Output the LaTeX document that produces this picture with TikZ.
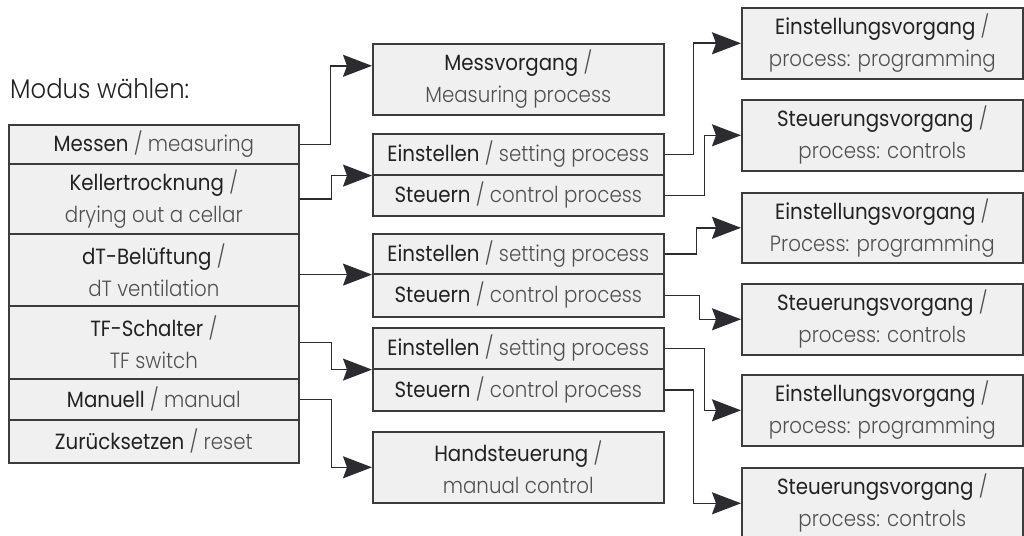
\documentclass[tikz,border=0pt]{standalone}
\usepackage{fontspec}
\setmainfont{Poppins}[FakeStretch=0.9]
\newfontfamily\medf{Poppins}[FakeStretch=0.9]
\newfontfamily\lightf{Poppins Light}[FakeStretch=0.9]
\usetikzlibrary{arrows.meta}
\definecolor{boxfill}{HTML}{F0F0F0}
\definecolor{bordercol}{HTML}{3C3C3C}
\definecolor{dtext}{HTML}{222222}
\definecolor{etext}{HTML}{505050}
\definecolor{arrowcol}{HTML}{2C2C30}
\newcommand{\de}[1]{{\medf\color{dtext}#1}}
\newcommand{\en}[1]{{\lightf\color{etext}#1}}
\newcommand{\sla}{{\lightf\color{etext}/}}
\tikzset{
  cell/.style={draw=bordercol, fill=boxfill, line width=1.6pt, align=center,
    inner sep=0pt, anchor=north west, font=\fontsize{22}{32}\selectfont},
  conn/.style={draw=arrowcol, line width=1.6pt,
    -{Stealth[length=29pt, width=22pt, inset=4pt]}},
}
\begin{document}
\begin{tikzpicture}[x=1pt, y=-1pt]
\useasboundingbox (0,0) rectangle (1024,535);
% title
\node[anchor=base west, inner sep=0pt, font=\fontsize{27}{30}\selectfont\lightf, text=dtext] (title) at (10,98) {Modus wählen:};
% left stack
\node[cell, minimum width=290pt, minimum height=39pt] (messen) at (8,124) {\de{Messen} \sla{} \en{measuring}};
\node[cell, minimum width=290pt, minimum height=70pt] (keller) at (8,163) {\de{Kellertrocknung} \sla\\\en{drying out a cellar}};
\node[cell, minimum width=290pt, minimum height=72pt] (dt) at (8,233) {\de{dT-Belüftung} \sla\\\en{dT ventilation}};
\node[cell, minimum width=290pt, minimum height=73pt] (tf) at (8,305) {\de{TF-Schalter} \sla\\\en{TF switch}};
\node[cell, minimum width=290pt, minimum height=41pt] (man) at (8,378) {\de{Manuell} \sla{} \en{manual}};
\node[cell, minimum width=290pt, minimum height=43pt] (reset) at (8,419) {\de{Zurücksetzen} \sla{} \en{reset}};
% middle column
\node[cell, minimum width=291pt, minimum height=71pt] (messv) at (372,43) {\de{Messvorgang} \sla\\\en{Measuring process}};
\node[cell, minimum width=291pt, minimum height=41pt] (e1) at (372,133) {\de{Einstellen} \sla{} \en{setting process}};
\node[cell, minimum width=291pt, minimum height=41pt] (s1) at (372,174) {\de{Steuern} \sla{} \en{control process}};
\node[cell, minimum width=291pt, minimum height=40pt] (e2) at (372,233) {\de{Einstellen} \sla{} \en{setting process}};
\node[cell, minimum width=291pt, minimum height=43pt] (s2) at (372,273) {\de{Steuern} \sla{} \en{control process}};
\node[cell, minimum width=291pt, minimum height=41pt] (e3) at (372,327) {\de{Einstellen} \sla{} \en{setting process}};
\node[cell, minimum width=291pt, minimum height=42pt] (s3) at (372,368) {\de{Steuern} \sla{} \en{control process}};
\node[cell, minimum width=291pt, minimum height=71pt] (hand) at (372,431) {\de{Handsteuerung} \sla\\\en{manual control}};
% right column
\node[cell, minimum width=281pt, minimum height=71pt] (r1) at (741,7) {\de{Einstellungsvorgang} \sla\\\en{process: programming}};
\node[cell, minimum width=281pt, minimum height=71pt] (r2) at (741,99) {\de{Steuerungsvorgang} \sla\\\en{process: controls}};
\node[cell, minimum width=281pt, minimum height=70pt] (r3) at (741,192) {\de{Einstellungsvorgang} \sla\\\en{Process: programming}};
\node[cell, minimum width=281pt, minimum height=71pt] (r4) at (741,283) {\de{Steuerungsvorgang} \sla\\\en{process: controls}};
\node[cell, minimum width=281pt, minimum height=71pt] (r5) at (741,374) {\de{Einstellungsvorgang} \sla\\\en{process: programming}};
\node[cell, minimum width=281pt, minimum height=71pt] (r6) at (741,467) {\de{Steuerungsvorgang} \sla\\\en{process: controls}};
% connectors left -> middle
\draw[conn] (messen.east) -- ++(31,0) |- ([yshift=13.5pt]messv.west);
\draw[conn] (keller.east) -- ++(32,0) |- (e1.south west);
\draw[conn] (dt.east |- e2.south west) -- (e2.south west);
\draw[conn] (tf.east) -- ++(32,0) |- (e3.south west);
\draw[conn] (man.east) -- ++(32,0) |- (hand.west);
% connectors middle -> right
\draw[conn] (e1.east) -- ++(29,0) |- (r1.west);
\draw[conn] (s1.east) -- ++(40,0) |- (r2.west);
\draw[conn] (e2.east) -- ++(32,0) |- (r3.west);
\draw[conn] (s2.east) -- ++(35,0) |- (r4.west);
\draw[conn] (e3.east) -- ++(40,0) |- (r5.west);
\draw[conn] (s3.east) -- ++(29,0) |- (r6.west);
\end{tikzpicture}
\end{document}
